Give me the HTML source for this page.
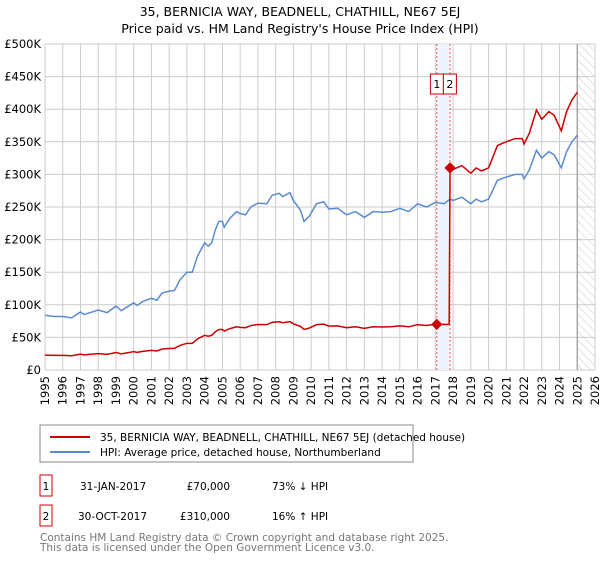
<!DOCTYPE html>
<html><head><meta charset="utf-8"><style>
body{margin:0;background:#fff;font-family:"Liberation Sans","DejaVu Sans",sans-serif}
svg text{font-family:"DejaVu Sans","Liberation Sans",sans-serif}
</style></head><body>
<svg id="c" width="600" height="560">
<defs><pattern id="hatch" width="6" height="6" patternUnits="userSpaceOnUse" patternTransform="rotate(-45)"><line x1="0" y1="0" x2="0" y2="6" stroke="#bbb" stroke-width="0.8"/></pattern></defs>
<text x="300" y="16" text-anchor="middle" font-size="12.5">35, BERNICIA WAY, BEADNELL, CHATHILL, NE67 5EJ</text>
<text x="300" y="33" text-anchor="middle" font-size="12.5">Price paid vs. HM Land Registry's House Price Index (HPI)</text>
<g id="grid"></g><g id="marks"></g>
<rect x="40" y="425" width="373" height="37" fill="#fff" stroke="#888"/>
<line x1="50" y1="437" x2="90" y2="437" stroke="#cc0000" stroke-width="2"/>
<text x="100" y="441" font-size="10.5">35, BERNICIA WAY, BEADNELL, CHATHILL, NE67 5EJ (detached house)</text>
<line x1="50" y1="452" x2="90" y2="452" stroke="#5b8bd0" stroke-width="2"/>
<text x="100" y="456" font-size="10.5">HPI: Average price, detached house, Northumberland</text>
<rect x="40" y="475" width="12" height="21" fill="#fff" stroke="#cc0000"/>
<text x="46" y="490" font-size="10.5" text-anchor="middle">1</text>
<text x="80" y="490" font-size="10.5">31-JAN-2017</text>
<text x="230" y="490" font-size="10.5" text-anchor="end">£70,000</text>
<text x="272" y="490" font-size="10.5">73% ↓ HPI</text>
<rect x="40" y="505" width="12" height="21" fill="#fff" stroke="#cc0000"/>
<text x="46" y="520" font-size="10.5" text-anchor="middle">2</text>
<text x="78" y="520" font-size="10.5">30-OCT-2017</text>
<text x="230" y="520" font-size="10.5" text-anchor="end">£310,000</text>
<text x="272" y="520" font-size="10.5">16% ↑ HPI</text>
<text x="40" y="541" font-size="10.5" fill="#777">Contains HM Land Registry data © Crown copyright and database right 2025.</text>
<text x="40" y="551" font-size="10.5" fill="#777">This data is licensed under the Open Government Licence v3.0.</text>
</svg>
<script>
const hpiYears=[1995,1995.5,1996,1996.5,1997,1997.2,1998,1998.5,1999,1999.3,2000,2000.2,2000.5,2001,2001.3,2001.6,2002,2002.3,2002.6,2003,2003.3,2003.6,2004,2004.2,2004.4,2004.6,2004.8,2005,2005.1,2005.4,2005.8,2006,2006.3,2006.6,2007,2007.5,2007.8,2008.2,2008.4,2008.8,2009,2009.4,2009.6,2009.9,2010.3,2010.7,2011,2011.5,2012,2012.5,2013,2013.5,2014,2014.5,2015,2015.5,2016,2016.5,2017,2017.5,2017.83,2018,2018.5,2019,2019.3,2019.6,2020,2020.5,2020.9,2021.5,2021.9,2022,2022.3,2022.7,2023,2023.4,2023.7,2024.1,2024.4,2024.7,2025];
const hpiValues=[84,82,82,80,89,85,92,88,98,91,103,99,105,110,107,118,121,122,138,150,150,175,195,190,195,215,228,228,219,232,243,240,238,250,256,255,268,271,266,272,260,245,228,236,255,258,247,248,238,243,234,243,242,243,248,243,255,250,257,255,262,260,265,255,262,258,262,291,295,300,300,293,307,337,325,335,330,310,335,350,360];
const sale1=[2017.08,70]; const sale2=[2017.83,310];
const yTicks=[0,50,100,150,200,250,300,350,400,450,500];
const yTickLabels=["£0","£50K","£100K","£150K","£200K","£250K","£300K","£350K","£400K","£450K","£500K"];
const xTicks=[1995,1996,1997,1998,1999,2000,2001,2002,2003,2004,2005,2006,2007,2008,2009,2010,2011,2012,2013,2014,2015,2016,2017,2018,2019,2020,2021,2022,2023,2024,2025,2026];
const L=45,R=595,T=44,B=370;
const X=t=>L+(t-1995)/(2026-1995)*(R-L);
const Y=v=>B-v/500*(B-T);
const NS="http://www.w3.org/2000/svg";
function mk(tag,parent,attrs){const e=document.createElementNS(NS,tag);for(const k in attrs)e.setAttribute(k,attrs[k]);parent.appendChild(e);return e;}
const g=document.getElementById('grid'),m=document.getElementById('marks');
yTicks.forEach((v,i)=>{
 const l=mk('line',g,{x1:L,x2:R,y1:Y(v),y2:Y(v),stroke:'#ccc'});
 
 
 const t=mk('text',g,{x:L-4,y:Y(v)+4,'text-anchor':'end','font-size':'11.5'});t.textContent=yTickLabels[i];
 
 
});
xTicks.forEach(yr=>{
 const l=mk('line',g,{x1:X(yr),x2:X(yr),y1:T,y2:B,stroke:'#ccc'});
 
 
 const t=mk('text',g,{x:0,y:0,'text-anchor':'end','font-size':'11.5',transform:`translate(${X(yr)+4},${B+6}) rotate(-90)`});t.textContent=yr;
 
 
});
const h=mk('rect',g,{x:X(2025),y:T,width:R-X(2025),height:B-T,fill:'url(#hatch)'});


const vl=mk('line',g,{x1:X(2025),x2:X(2025),y1:T,y2:B,stroke:'#999','stroke-width':1.2});


const sh=mk('rect',g,{x:X(sale1[0]),y:T,width:X(sale2[0])-X(sale1[0]),height:B-T,fill:'#eef3fc'});


const mid=(X(sale1[0])+X(sale2[0]))/2;
[sale1,sale2].forEach((s,i)=>{
 const l=mk('line',g,{x1:X(s[0]),x2:X(s[0]),y1:T,y2:B,stroke:'#e06060','stroke-dasharray':'2,2'});
 
 
 const bx=mid+(i==0?-13:0);
 const r=mk('rect',g,{x:bx,y:74,width:13,height:20,fill:'#fff',stroke:'#cc0000'});
 
 
 const t=mk('text',g,{x:bx+6.5,y:88,'text-anchor':'middle','font-size':'11'});t.textContent=i+1;
});
function interp(t){for(let i=1;i<hpiYears.length;i++){if(t<=hpiYears[i]){const a=hpiYears[i-1],b=hpiYears[i];return hpiValues[i-1]+(hpiValues[i]-hpiValues[i-1])*(t-a)/(b-a);}}return hpiValues[hpiValues.length-1];}
const hp=mk('polyline',m,{points:hpiYears.map((t,i)=>X(t)+','+Y(hpiValues[i])).join(' '),fill:'none',stroke:'#5b8bd0','stroke-width':1.5});


const f1=sale1[1]/interp(sale1[0]),f2=sale2[1]/interp(sale2[0]);
let pts=[];
hpiYears.forEach((t,i)=>{if(t<sale1[0])pts.push([t,hpiValues[i]*f1]);});
pts.push([sale1[0],sale1[1]]);pts.push([sale2[0]-0.05,sale1[1]]);pts.push([sale2[0],sale2[1]]);
hpiYears.forEach((t,i)=>{if(t>sale2[0])pts.push([t,hpiValues[i]*f2]);});
const pl=mk('polyline',m,{points:pts.map(p=>X(p[0])+','+Y(p[1])).join(' '),fill:'none',stroke:'#cc0000','stroke-width':1.5});


[sale1,sale2].forEach(s=>{
 const d=mk('rect',m,{x:X(s[0])-4,y:Y(s[1])-4,width:8,height:8,fill:'#cc0000',transform:`rotate(45 ${X(s[0])} ${Y(s[1])})`});
 
 
});
</script>
</body></html>
